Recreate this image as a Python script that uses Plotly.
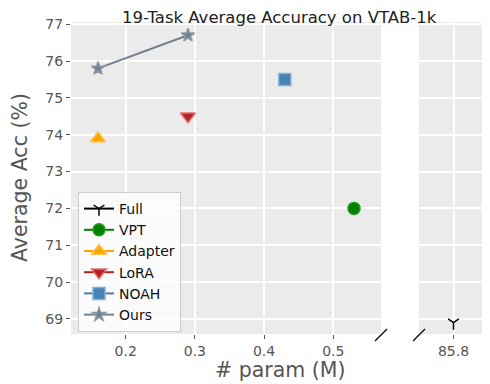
import plotly.graph_objects as go

# data
methods = ["Full", "VPT", "Adapter", "LoRA", "NOAH", "Ours"]
params = [[85.8], [0.53], [0.16], [0.29], [0.43], [0.16, 0.29]]
accs = [[68.9], [72.0], [73.9], [74.5], [75.5], [75.8, 76.7]]
colors = ["#000000", "#008000", "#FFA500", "#B22222", "#4682B4", "#708090"]
symbols = ["y-down-open", "circle", "triangle-up", "triangle-down", "square", "star"]
sizes = [9, 12, 13, 13, 12, 10]
edge = ["#000000", "#1f9a1f", "#FFC04D", "#E07070", "#86AFD6", "#8A97A5"]

TXT = "#555555"
FONT = "DejaVu Sans"

fig = go.Figure()
for m, xs, ys, c, s, sz, e in zip(methods, params, accs, colors, symbols, sizes, edge):
    right = xs[0] > 10
    fig.add_trace(go.Scatter(
        x=xs, y=ys, name=m, mode="lines+markers",
        xaxis="x2" if right else "x", yaxis="y2" if right else "y",
        line=dict(color=c, width=2),
        marker=dict(symbol=s, size=sz, color=c, line=dict(color=e, width=1.5)),
    ))

# page body adds an 8px offset, so the figure is drawn 8px smaller
OFF = 8
W, H = 490 - OFF, 384 - OFF
ml, mr, mt, mb = 71 - OFF, 2, 22 - OFF, 50
pw = W - ml - mr
ph = H - mt - mb
split = (381 - 71) / pw
x2start = (419 - 71) / pw

def px_to_paper(x, y):
    # x, y are pixel positions in the reference picture
    return (x - OFF - ml) / pw, (H - mb - (y - OFF)) / ph

lx, ly = px_to_paper(78, 192)
grid = dict(showgrid=True, gridcolor="white", gridwidth=1.5, zeroline=False, automargin=False)
fig.update_layout(
    width=W, height=H,
    margin=dict(l=ml, r=mr, t=mt, b=mb),
    paper_bgcolor="white", plot_bgcolor="#EBEBEB",
    font=dict(family=FONT, color=TXT, size=14),
    xaxis=dict(domain=[0, split], range=[0.121, 0.569], tickvals=[0.2, 0.3, 0.4, 0.5],
               ticktext=["0.2", "0.3", "0.4", "0.5"], ticks="outside", ticklen=4,
               tickcolor=TXT, **grid),
    xaxis2=dict(domain=[x2start, 1], range=[85.7, 85.9], tickvals=[85.8], ticktext=["85.8"],
                ticks="outside", ticklen=4, tickcolor=TXT, **grid),
    yaxis=dict(range=[68.59, 77.06], dtick=1, ticks="outside", ticklen=4, tickcolor=TXT, **grid),
    yaxis2=dict(anchor="x2", matches="y", showticklabels=False, dtick=1, **grid),
    legend=dict(x=lx, y=ly, xanchor="left", yanchor="top",
                bgcolor="rgba(255,255,255,0.8)", bordercolor="#CCCCCC", borderwidth=1,
                font=dict(size=14, color="#111111"), itemwidth=30, tracegroupgap=0),
)

# title and axis titles placed as annotations (kept inside the figure box)
ann = dict(xref="paper", yref="paper", showarrow=False, xanchor="center", yanchor="middle")
tx, ty = px_to_paper(279, 17)
fig.add_annotation(text="19-Task Average Accuracy on VTAB-1k", x=tx, y=ty,
                   font=dict(size=16.5, color="#222222"), **ann)
xx, xy = px_to_paper(280, 370)
fig.add_annotation(text="# param (M)", x=xx, y=xy, font=dict(size=20.5, color=TXT), **ann)
yx, yy = px_to_paper(20, 178)
fig.add_annotation(text="Average Acc (%)", x=yx, y=yy, textangle=-90,
                   font=dict(size=20.5, color=TXT), **ann)

# diagonal break marks
for cx in [381, 419]:
    x0, y0 = px_to_paper(cx - 6, 341)
    x1, y1 = px_to_paper(cx + 6, 329)
    fig.add_shape(type="line", xref="paper", yref="paper", x0=x0, y0=y0, x1=x1, y1=y1,
                  line=dict(color="black", width=1.2))

fig.write_html("out.html")
